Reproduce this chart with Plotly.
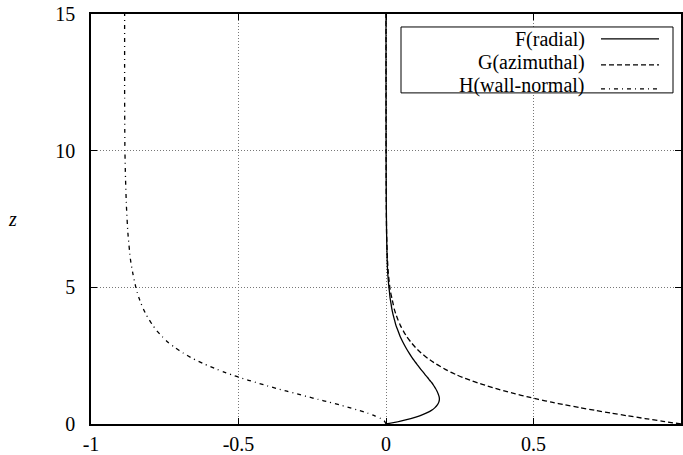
import plotly.graph_objects as go

# von Karman swirling flow profiles
z_vals = [0, 0.1, 0.2, 0.3, 0.4, 0.5, 0.6, 0.7, 0.8, 0.9, 1.0, 1.1, 1.2, 1.3, 1.4, 1.5,
          1.6, 1.7, 1.8, 1.9, 2.0, 2.2, 2.4, 2.6, 2.8, 3.0, 3.2, 3.4, 3.6, 3.8, 4.0,
          4.2, 4.4, 4.6, 4.8, 5.0, 5.5, 6.0, 7.0, 8.0, 9.0, 10.0, 12.0, 15.0]
F_radial = [0, 0.046, 0.084, 0.114, 0.136, 0.154, 0.166, 0.174, 0.179, 0.181, 0.180, 0.177,
            0.173, 0.168, 0.162, 0.156, 0.148, 0.141, 0.133, 0.126, 0.118, 0.104, 0.090,
            0.078, 0.067, 0.057, 0.048, 0.041, 0.034, 0.029, 0.024, 0.020, 0.017, 0.014,
            0.012, 0.010, 0.006, 0.004, 0.002, 0.001, 0.0005, 0.0003, 0.0001, 0.0]
G_azimuthal = [1.0, 0.939, 0.878, 0.819, 0.762, 0.708, 0.656, 0.607, 0.561, 0.517, 0.477,
               0.439, 0.404, 0.371, 0.341, 0.312, 0.286, 0.261, 0.239, 0.219, 0.201, 0.169,
               0.142, 0.119, 0.100, 0.084, 0.070, 0.059, 0.049, 0.041, 0.034, 0.028, 0.024,
               0.020, 0.016, 0.013, 0.008, 0.005, 0.002, 0.001, 0.0005, 0.0002, 0.0001, 0.0]
H_wall_normal = [0, -0.005, -0.018, -0.038, -0.063, -0.092, -0.124, -0.158, -0.193, -0.230,
                 -0.266, -0.301, -0.336, -0.371, -0.403, -0.435, -0.466, -0.495, -0.523,
                 -0.549, -0.573, -0.617, -0.656, -0.688, -0.716, -0.740, -0.759, -0.776,
                 -0.790, -0.802, -0.813, -0.822, -0.830, -0.837, -0.843, -0.848, -0.858,
                 -0.866, -0.875, -0.880, -0.883, -0.885, -0.886, -0.886]

x_ticks = [-1, -0.5, 0, 0.5, 1]
x_tick_labels = ["-1", "-0.5", "0", "0.5", "1"]
y_ticks = [0, 5, 10, 15]
y_tick_labels = ["0", "5", "10", "15"]

series_names = ["F(radial)", "G(azimuthal)", "H(wall-normal)"]
series_dash = ["solid", "5px,3px", "4px,4px,1px,4px"]

FONT = "Liberation Serif, Times New Roman, serif"
FS = 20

fig = go.Figure()
for xs, name, dash in zip([F_radial, G_azimuthal, H_wall_normal], series_names, series_dash):
    fig.add_trace(go.Scatter(x=xs, y=z_vals, mode="lines", name=name,
                             line=dict(color="black", width=1.3, dash=dash, shape="spline",
                                       smoothing=0.6),
                             showlegend=False))

axis_common = dict(
    showline=True, linecolor="black", linewidth=1.5, mirror="ticks",
    ticks="inside", ticklen=6, tickcolor="black", tickwidth=1,
    showgrid=True, gridcolor="#777777", griddash="1px,2px", gridwidth=1,
    zeroline=False, automargin=False,
    tickfont=dict(family=FONT, size=FS, color="black"),
)

fig.update_xaxes(range=[-1, 1], tickvals=x_ticks, ticktext=x_tick_labels,
                 ticklabelstandoff=1, **axis_common)
fig.update_yaxes(range=[0, 15], tickvals=y_ticks, ticktext=y_tick_labels,
                 ticklabelstandoff=10, **axis_common)

# custom gnuplot-style legend (text on left, line sample on right)
# plot area: x 91..681 px, y 14..424.5 px
def px(x):
    return (x - 91) / 590.0

def py(y):
    return (424.5 - y) / 410.5

fig.add_shape(type="rect", xref="paper", yref="paper",
              x0=px(401), x1=px(673), y0=py(93), y1=py(27),
              line=dict(color="black", width=1), fillcolor="white", layer="above")
text_rows = [40, 63, 86]
line_rows = [39, 65, 89]
for name, dash, ty, ly in zip(series_names, series_dash, text_rows, line_rows):
    fig.add_annotation(xref="paper", yref="paper", x=px(587), y=py(ty), text=name,
                       showarrow=False, xanchor="right", yanchor="middle",
                       font=dict(family=FONT, size=FS, color="black"))
    fig.add_shape(type="line", xref="paper", yref="paper", x0=px(601), x1=px(659),
                  y0=py(ly), y1=py(ly),
                  line=dict(color="black", width=1.3, dash=dash), layer="above")

fig.add_annotation(xref="paper", yref="paper", x=px(12.5), y=0.5, text="<i>z</i>",
                   showarrow=False, xanchor="center", yanchor="middle",
                   font=dict(family=FONT, size=FS, color="black"))

fig.update_layout(width=683, height=455, margin=dict(l=91, r=2, t=14, b=31),
                  plot_bgcolor="white", paper_bgcolor="white", template="none")

fig.write_html("out.html")
